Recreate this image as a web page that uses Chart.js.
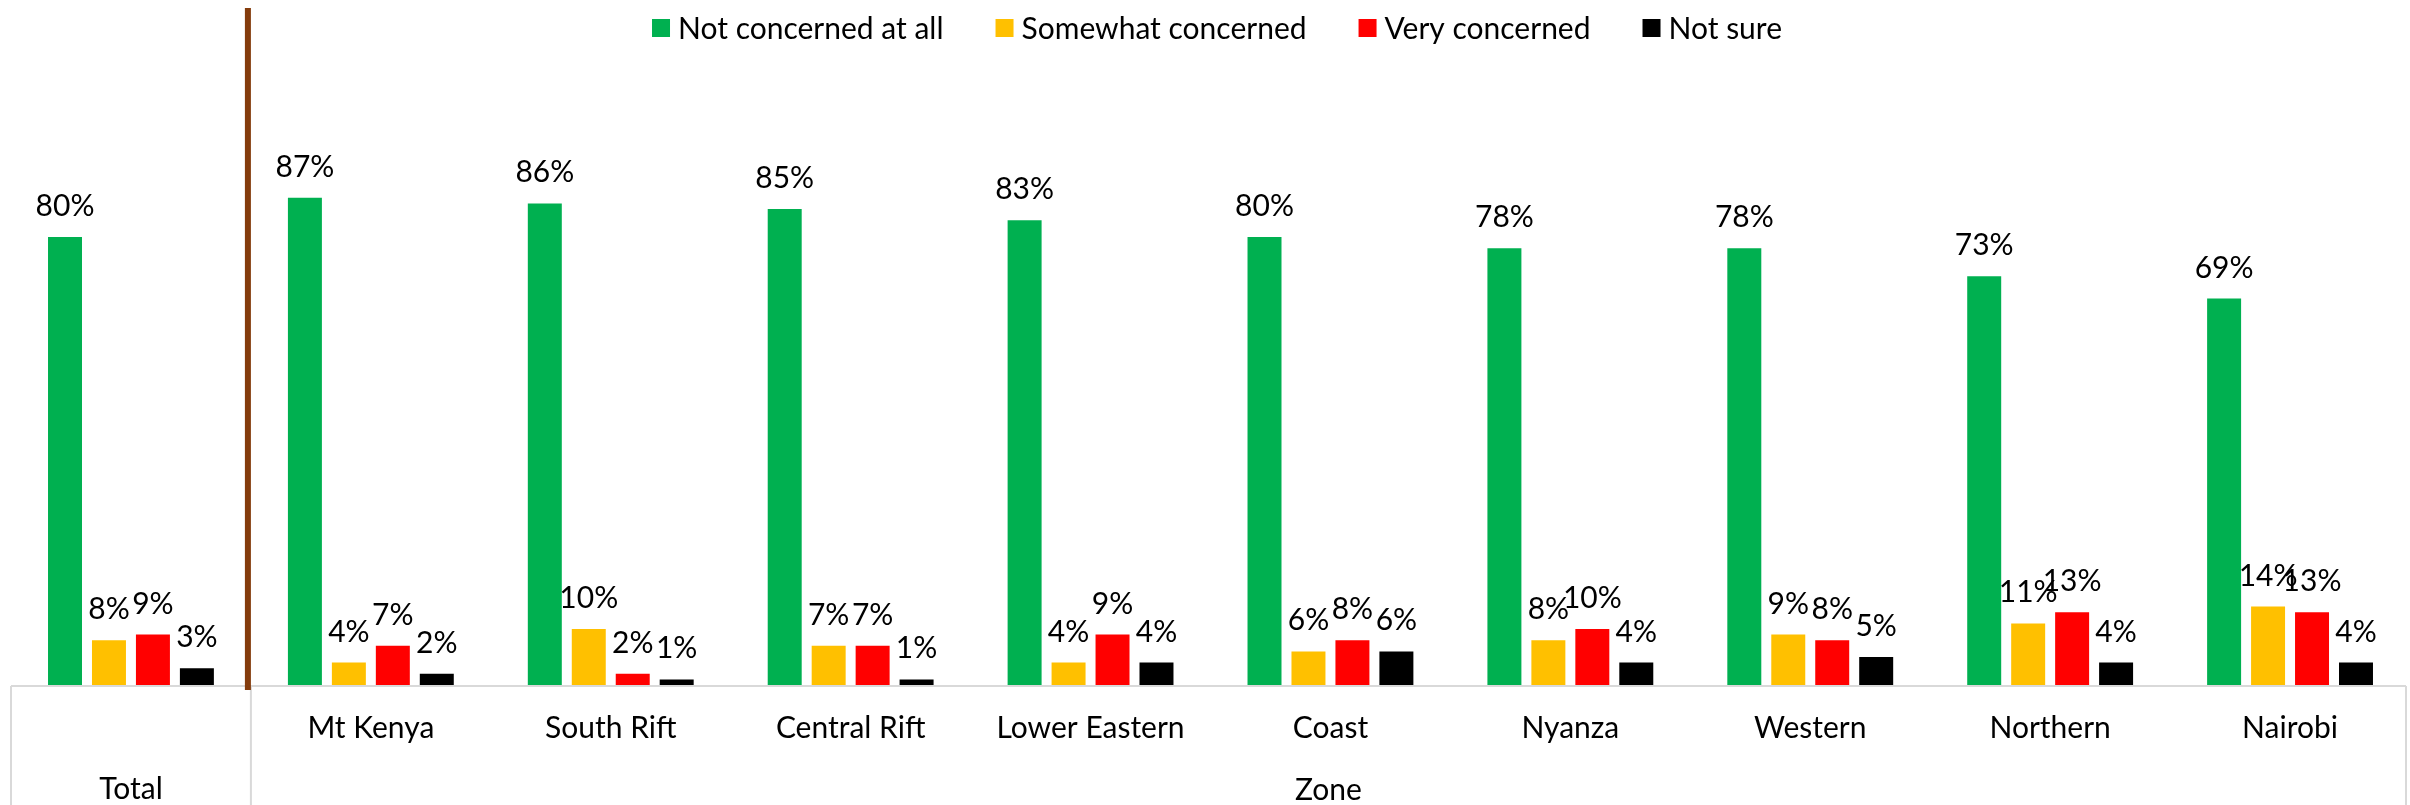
<!DOCTYPE html>
<html>
<head>
<meta charset="utf-8">
<title>Concern by zone</title>
<script src="https://cdn.jsdelivr.net/npm/chart.js@4.4.1/dist/chart.umd.min.js"></script>
<style>
  html, body { margin: 0; padding: 0; background: #fff; }
  #wrap { width: 2410px; height: 805px; }
</style>
</head>
<body>
<div id="wrap"><canvas id="zoneChart" width="2410" height="805"></canvas></div>
<script>
// survey data, percent of respondents
const categories = ['Total', 'Mt Kenya', 'South Rift', 'Central Rift', 'Lower Eastern', 'Coast', 'Nyanza', 'Western', 'Northern', 'Nairobi'];
const seriesNames = ['Not concerned at all', 'Somewhat concerned', 'Very concerned', 'Not sure'];
const notConcerned = [80, 87, 86, 85, 83, 80, 78, 78, 73, 69];
const somewhatConcerned = [8, 4, 10, 7, 4, 6, 8, 9, 11, 14];
const veryConcerned = [9, 7, 2, 7, 9, 8, 10, 8, 13, 13];
const notSure = [3, 2, 1, 1, 4, 6, 4, 5, 4, 4];
const seriesColors = ['#00B050', '#FFC000', '#FF0000', '#000000'];
const groupTitle = 'Zone';

const FONT = 'Lato, "Noto Sans", sans-serif';
const FONT_SIZE = 30;

// "Total" sits on the second label row, zone names on the first
const tickLabels = categories.map((c, i) => i === 0 ? ['', c] : c);

// value labels above each bar
const valueLabels = {
    id: 'valueLabels',
    afterDatasetsDraw(chart) {
        const ctx = chart.ctx;
        ctx.save();
        ctx.font = FONT_SIZE + 'px ' + FONT;
        ctx.fillStyle = '#000';
        ctx.textAlign = 'center';
        ctx.textBaseline = 'alphabetic';
        chart.data.datasets.forEach((ds, di) => {
            chart.getDatasetMeta(di).data.forEach((bar, i) => {
                ctx.fillText(ds.data[i] + '%', bar.x, bar.y - 21);
            });
        });
        ctx.restore();
    }
};

// grey frame under the axis, brown divider after Total, group title
const zoneFrame = {
    id: 'zoneFrame',
    afterDraw(chart) {
        const ctx = chart.ctx;
        const x = chart.scales.x;
        const area = chart.chartArea;
        const split = (x.getPixelForValue(0) + x.getPixelForValue(1)) / 2;
        const right = area.right - 4;
        const bottom = chart.height;

        ctx.save();
        ctx.strokeStyle = '#D9D9D9';
        ctx.lineWidth = 2;
        ctx.beginPath();
        ctx.moveTo(area.left, area.bottom + 1);
        ctx.lineTo(right, area.bottom + 1);
        [area.left, split, right].forEach(px => {
            ctx.moveTo(px, area.bottom + 1);
            ctx.lineTo(px, bottom);
        });
        ctx.stroke();

        ctx.strokeStyle = '#843C0C';
        ctx.lineWidth = 6;
        ctx.beginPath();
        ctx.moveTo(split - 3, 8);
        ctx.lineTo(split - 3, area.bottom + 5);
        ctx.stroke();

        ctx.font = FONT_SIZE + 'px ' + FONT;
        ctx.fillStyle = '#000';
        ctx.textAlign = 'center';
        ctx.textBaseline = 'middle';
        ctx.fillText(groupTitle, (split + right) / 2, 790);
        ctx.restore();
    }
};

// single-row legend across the top
const legendRow = {
    id: 'legendRow',
    afterDraw(chart) {
        const ctx = chart.ctx;
        const box = 18, gap = 8, itemGap = 52, cy = 28, centre = 1217;
        ctx.save();
        ctx.font = FONT_SIZE + 'px ' + FONT;
        const widths = seriesNames.map(n => ctx.measureText(n).width);
        const total = widths.reduce((s, w) => s + box + gap + w, 0) + itemGap * (seriesNames.length - 1);
        let px = centre - total / 2;
        ctx.textBaseline = 'middle';
        ctx.textAlign = 'left';
        seriesNames.forEach((n, i) => {
            ctx.fillStyle = seriesColors[i];
            ctx.fillRect(px, cy - box / 2, box, box);
            ctx.fillStyle = '#000';
            ctx.fillText(n, px + box + gap, cy + 1);
            px += box + gap + widths[i] + itemGap;
        });
        ctx.restore();
    }
};

const seriesData = [notConcerned, somewhatConcerned, veryConcerned, notSure];

new Chart(document.getElementById('zoneChart'), {
    type: 'bar',
    data: {
        labels: tickLabels,
        datasets: seriesNames.map((name, i) => ({
            label: name,
            data: seriesData[i],
            backgroundColor: seriesColors[i],
            borderWidth: 0,
            categoryPercentage: 0.733,
            barPercentage: 0.773
        }))
    },
    options: {
        responsive: false,
        animation: false,
        devicePixelRatio: 1,
        layout: { padding: { left: 11, right: 0, top: 13, bottom: 0 } },
        plugins: {
            legend: { display: false },
            tooltip: { enabled: false }
        },
        scales: {
            x: {
                grid: { display: false, drawTicks: false },
                border: { display: false },
                ticks: {
                    color: '#000',
                    font: { family: FONT, size: FONT_SIZE, lineHeight: '61px' },
                    padding: 13,
                    autoSkip: false,
                    maxRotation: 0
                },
                afterFit(scale) { scale.height = 120; }
            },
            y: {
                display: false,
                min: 0,
                max: 120
            }
        }
    },
    plugins: [valueLabels, zoneFrame, legendRow]
});
</script>
</body>
</html>
